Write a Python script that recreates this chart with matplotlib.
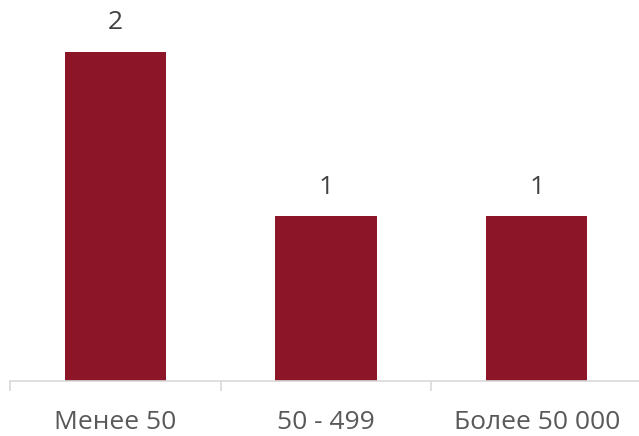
import matplotlib.pyplot as plt

categories = ['Менее 50', '50 - 499', 'Более 50 000']
values = [2, 1, 1]

plt.rcParams['font.family'] = ['Open Sans', 'DejaVu Sans']

fig = plt.figure(figsize=(6.39, 4.36), dpi=100)
ax = fig.add_axes([10 / 639, 1 - 381 / 436, 632 / 639, 381 / 436])

x = range(len(categories))
bars = ax.bar(x, values, width=0.48, color='#8C1627')
for b, v in zip(bars, values):
    ax.annotate(str(v), (b.get_x() + b.get_width() / 2, v), xytext=(0, 12),
                textcoords='offset points', ha='center', va='bottom',
                fontsize=19, color='#404040')

ax.set_xlim(-0.5, 2.5)
ax.set_ylim(0, 381 / 164.5)
ax.set_yticks([])
ax.set_xticks([-0.5, 0.5, 1.5, 2.5], minor=False)
ax.set_xticklabels([])
ax.set_xticks(list(x), minor=True)
ax.set_xticklabels(categories, minor=True, fontsize=19, color='#595959')
ax.tick_params(axis='x', which='major', length=7, color='#D9D9D9', width=1.2)
ax.tick_params(axis='x', which='minor', length=0, pad=21)
for s in ['top', 'right', 'left']:
    ax.spines[s].set_visible(False)
ax.spines['bottom'].set_color('#D9D9D9')
ax.spines['bottom'].set_linewidth(1.2)

fig.savefig('out.png', dpi=100)
